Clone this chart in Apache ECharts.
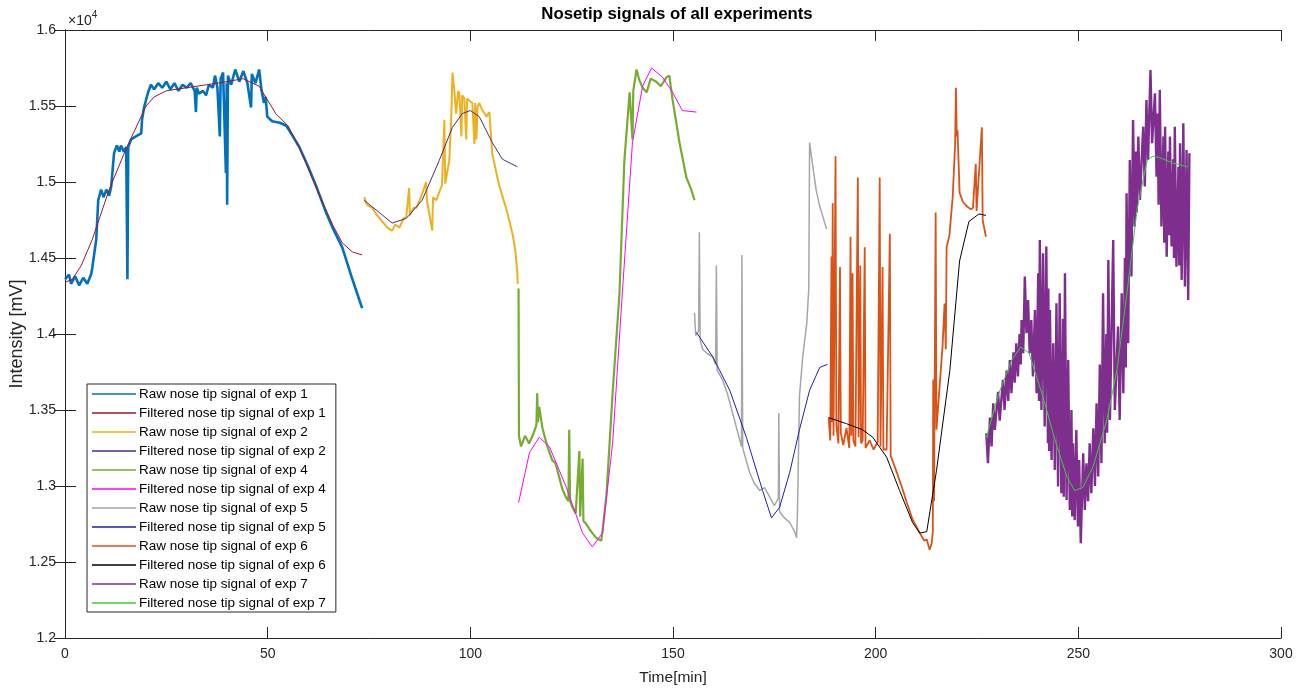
<!DOCTYPE html>
<html>
<head>
<meta charset="utf-8">
<script src="https://cdn.jsdelivr.net/npm/echarts@6/dist/echarts.min.js"></script>
<style>
  html, body { margin: 0; padding: 0; background: #fff; }
  #chart { width: 1311px; height: 693px; }
</style>
</head>
<body>
<div id="chart"></div>
<script>
// nosetip signals, values in mV, time in min
const raw1 = [[0,14360],[1,14390],[1.5,14330],[2.5,14380],[3.5,14320],[4.5,14370],[5.5,14330],[6.4,14390],[6.7,14430],[7.7,14620],[8.2,14880],[8.9,14950],[9.5,14900],[10.2,14950],[10.9,14910],[11.4,14970],[12.1,15190],[12.8,15240],[13.4,15200],[13.8,15240],[14.5,15200],[15.1,15230],[15.4,14360],[15.6,15230],[16.3,15280],[17.5,15300],[18.8,15320],[19,15410],[19.5,15490],[20.5,15590],[21.2,15640],[22,15610],[23,15650],[24,15620],[25,15660],[26,15610],[27,15650],[28,15600],[29,15640],[30,15620],[31,15650],[32,15600],[32.3,15460],[32.5,15620],[33.1,15580],[34,15600],[34.8,15570],[35.5,15640],[36.5,15620],[37,15700],[37.6,15620],[38.2,15300],[38.4,15680],[39,15720],[39.7,15060],[39.9,15650],[40,14850],[40.2,15700],[41,15640],[42,15740],[43,15660],[44,15730],[45,15650],[45.9,15490],[46.1,15710],[47,15650],[47.9,15740],[48.5,15600],[49.1,15520],[49.5,15560],[49.9,15430],[51.1,15400],[53,15390],[54.6,15370],[56,15310],[57.8,15230],[60,15100],[62,14970],[64.4,14800],[66,14700],[68.4,14570],[70.9,14360],[73.3,14170]];
const filt1 = [[0,14340],[1.8,14360],[4,14450],[6.7,14620],[10.9,14950],[15.1,15220],[20,15500],[22,15560],[25,15600],[30,15620],[35,15640],[40,15660],[43.9,15680],[47.9,15630],[52,15450],[55,15370],[57.8,15230],[62,14960],[66,14720],[68.4,14600],[70.9,14540],[73.3,14520]];

const raw2 = [[73.8,14900],[74.5,14850],[75.8,14830],[77,14780],[78.3,14740],[79.5,14700],[80.7,14680],[81.5,14720],[82.5,14700],[83.5,14760],[84.2,14770],[84.9,14960],[85.1,14780],[86,14830],[86.7,14830],[87.5,14880],[88.1,14920],[89.1,15000],[89.3,14880],[90.6,14680],[90.8,14900],[91.6,14880],[92.3,14930],[93,14980],[93.6,15410],[93.8,14990],[94.8,15140],[95.3,15430],[95.6,15720],[96,15620],[96.5,15450],[97,15600],[97.3,15580],[97.8,15300],[98,15570],[98.5,15550],[99,15280],[99.2,15550],[100,15530],[100.5,15520],[101,15250],[101.2,15520],[101.5,15280],[101.8,15500],[102.2,15520],[103,15470],[104,15430],[104.7,15460],[105.4,15190],[106.5,15050],[107.2,14970],[108.9,14820],[110.4,14660],[111.1,14550],[111.6,14400],[111.7,14330]];
const filt2 = [[73.8,14880],[77.5,14800],[80.7,14730],[84.2,14760],[88.1,14880],[92.3,15140],[95.6,15360],[98,15450],[100,15470],[102.2,15430],[105.4,15260],[107.9,15150],[111.6,15100]];

const raw4 = [[111.9,14300],[112,13330],[112.5,13260],[113.5,13330],[114.5,13280],[115.5,13340],[116.3,13400],[116.5,13610],[116.7,13420],[117,13520],[117.8,13380],[119,13260],[120.2,13170],[121,13150],[122,13050],[122.7,12980],[123.5,12930],[124.2,12900],[124.4,13370],[124.6,12900],[125.2,12860],[126,12820],[126.9,13230],[127.1,12800],[127.7,13180],[127.9,12770],[128.6,12750],[129.3,12720],[130.1,12690],[131,12660],[132.3,12640],[132.6,12700],[133.6,12950],[135.1,13610],[136.8,14270],[138,15140],[139.3,15590],[140,15280],[140.2,15600],[141,15740],[141.7,15670],[142.5,15620],[143.5,15590],[144.5,15680],[145.9,15660],[147,15630],[148.4,15690],[149.1,15700],[149.9,15540],[151.6,15260],[153.3,15030],[154.5,14950],[155.3,14880]];
const filt4 = [[111.9,12890],[114.6,13220],[117,13320],[119.5,13260],[123.7,12990],[127.7,12690],[130.1,12600],[132.6,12690],[135.1,13280],[137.5,14270],[140,15260],[142.5,15630],[144.7,15750],[147.4,15690],[149.9,15590],[152.3,15470],[155.8,15460]];

const raw5 = [[155.3,14140],[155.6,13990],[156.3,14020],[156.5,14670],[156.7,13960],[157.3,13900],[158.5,13870],[159.8,13850],[160.5,13800],[160.7,14450],[160.9,13760],[162.2,13700],[163.5,13600],[164.7,13480],[165.8,13370],[166.9,13260],[167,14520],[167.2,13250],[168.9,13090],[170,13020],[171.4,12970],[172.6,12990],[173.8,12930],[175,12870],[176,12920],[176.1,13480],[176.3,12830],[177.5,12790],[178.8,12760],[180,12700],[180.5,12660],[180.7,12820],[181.2,13590],[182,13850],[183,14070],[183.5,14300],[183.7,15260],[184.4,15120],[185.3,14950],[186.2,14840],[187.9,14690]];
const filt5 = [[155.8,14010],[159.8,13850],[164,13630],[168.1,13320],[172.1,12970],[174.3,12790],[176.3,12860],[178.8,13090],[181.2,13370],[183.7,13630],[186.2,13780],[188.1,13800]];

const raw6 = [[188.4,13450],[188.8,13300],[189.1,14510],[189.2,13420],[189.4,14860],[189.6,13330],[190.1,15170],[190.3,13400],[190.8,13280],[191.2,14440],[191.4,13350],[192,13270],[192.8,13380],[193.5,13250],[193.8,14640],[194,13330],[194.3,14400],[194.5,13300],[195,13260],[195.6,15030],[195.8,13320],[196.2,14450],[196.4,13280],[196.8,13300],[197.3,14570],[197.5,13250],[198.5,13300],[199.5,13240],[200.5,13290],[201,15030],[201.2,13260],[201.7,14440],[201.9,13240],[202.7,13240],[203.5,14660],[203.7,13200],[205.2,13090],[206.5,12990],[207.7,12890],[209.1,12780],[210.9,12690],[212,12640],[212.6,12650],[213.3,12580],[213.8,12620],[214.1,12700],[214.2,13700],[214.4,12900],[214.8,14800],[215,13370],[216.5,13920],[217,14200],[217.3,13900],[217.5,14570],[218.2,14650],[219,14900],[219.6,15250],[219.8,15620],[220,15300],[220.2,15340],[220.7,14930],[221.5,14870],[222.5,14840],[223.5,14820],[224,14830],[224.7,15120],[224.9,14810],[225.2,14820],[226.2,15360],[226.4,14750],[227.2,14640]];
const filt6 = [[188.4,13450],[192.8,13410],[196.8,13370],[199.3,13320],[202.7,13190],[205.9,12970],[209.1,12760],[210.9,12690],[212.6,12700],[215,13100],[218.3,13760],[220.7,14480],[223,14740],[225.5,14790],[227.2,14780]];

const raw7 = [[227.3,13347],[227.7,13150],[228.2,13450],[228.6,13260],[229,13544],[229.4,13369],[230.2,13620],[230.6,13430],[231.4,13698],[231.8,13500],[232.3,13760],[232.7,13560],[233.1,13829],[233.5,13610],[234,13880],[234.3,13680],[234.7,13939],[235.1,13720],[235.5,14000],[235.8,13800],[236,14092],[236.4,13873],[236.8,14378],[237.2,14005],[237.6,14224],[238,13873],[238.4,14092],[238.8,13720],[239.3,14158],[239.7,13610],[240.1,14400],[240.3,13560],[240.5,14619],[240.9,13500],[241.3,14531],[241.7,13391],[242.1,14575],[242.5,13281],[242.6,14300],[242.8,13230],[243,14158],[243.4,13171],[243.8,13939],[244.2,13106],[244.6,14202],[245,12996],[245.4,14268],[245.8,12952],[246.2,14100],[246.4,12930],[246.7,14399],[247.1,12908],[247.5,13829],[247.9,12843],[248.3,13500],[248.5,12800],[248.7,13281],[249.1,12777],[249.5,13369],[249.9,12733],[250.2,13171],[250.6,12623],[251.2,13215],[251.6,12843],[252,13150],[252.4,12900],[252.8,13281],[253.2,12952],[253.7,13380],[254.1,13000],[254.5,13544],[254.9,13062],[255.3,13800],[255.7,13150],[256.1,14268],[256.5,13281],[256.9,14000],[257.1,13350],[257.4,14487],[257.8,13435],[258.6,14619],[259,13500],[259.8,14049],[260.2,13435],[260.7,14268],[261.1,13610],[261.5,14500],[261.7,13780],[261.9,14926],[262.3,13939],[262.7,15145],[263.1,14378],[263.5,15408],[263.9,14707],[264.2,15200],[264.4,14800],[264.8,15299],[265.2,14882],[266,15364],[266.4,14970],[266.8,15540],[267.2,15145],[267.8,15737],[268.2,15255],[268.9,15584],[269.3,15035],[269.6,15450],[269.8,14850],[270.1,15606],[270.5,14707],[271,15300],[271.2,14600],[271.4,15364],[271.8,14509],[272.2,15200],[272.4,14650],[272.6,15299],[273,14575],[273.4,15150],[273.6,14500],[273.8,15364],[274.2,14443],[274.7,15100],[274.9,14450],[275.1,15255],[275.5,14356],[275.9,15386],[276.3,14312],[276.7,15211],[277.1,14224],[277.4,15189]];
const filt7 = [[227.3,13320],[230.4,13610],[233.6,13830],[235.8,13915],[237.8,13875],[241,13610],[244.5,13280],[247.2,13060],[249.1,12970],[251.1,12990],[253.6,13125],[257,13430],[259.5,13760],[262,14270],[264.5,14820],[267,15145],[268.4,15170],[270.1,15160],[273.3,15125],[277,15100]];

const seriesNames = [
  'Raw nose tip signal of exp 1', 'Filtered nose tip signal of exp 1',
  'Raw nose tip signal of exp 2', 'Filtered nose tip signal of exp 2',
  'Raw nose tip signal of exp 4', 'Filtered nose tip signal of exp 4',
  'Raw nose tip signal of exp 5', 'Filtered nose tip signal of exp 5',
  'Raw nose tip signal of exp 6', 'Filtered nose tip signal of exp 6',
  'Raw nose tip signal of exp 7', 'Filtered nose tip signal of exp 7'
];
const seriesData = [raw1, filt1, raw2, filt2, raw4, filt4, raw5, filt5, raw6, filt6, raw7, filt7];
const seriesColors = ['#0072BD', '#A2142F', '#EDB120', '#4B2C82', '#77AC30', '#FF00FF',
                      '#A6A6A6', '#1F1FB4', '#D95319', '#000000', '#7E2F8E', '#3CCB3C'];
const seriesWidths = [2.6, 1, 2.0, 1, 2.2, 1, 1.5, 1, 1.8, 1, 2.4, 1];

const xTicks = { min: 0, max: 300, interval: 50 };
const yTicks = { min: 12000, max: 16000, interval: 500 };

const AX = '#262626';
const FONT = '"Liberation Sans", Arial, sans-serif';

const chart = echarts.init(document.getElementById('chart'), null, { renderer: 'canvas' });

const series = seriesData.map((d, i) => ({
  name: seriesNames[i],
  type: 'line',
  data: d,
  symbol: 'none',
  smooth: false,
  silent: true,
  lineStyle: { color: seriesColors[i], width: seriesWidths[i], join: 'bevel' },
  itemStyle: { color: seriesColors[i] },
  z: 2 + i
}));

const boxAxis = {
  axisLine: { show: true, lineStyle: { color: AX, width: 1 } },
  axisTick: { show: true, inside: true, length: 11, lineStyle: { color: AX } },
  axisLabel: { show: false },
  splitLine: { show: false }
};

chart.setOption({
  animation: false,
  backgroundColor: '#fff',
  title: {
    text: 'Nosetip signals of all experiments',
    left: 672, top: 1, textAlign: 'center',
    textStyle: { fontFamily: FONT, fontSize: 16.8, fontWeight: 'bold', color: '#000' }
  },
  grid: { left: 65, right: 30, top: 30, bottom: 55, containLabel: false, outerBoundsMode: 'none' },
  legend: {
    data: seriesNames,
    orient: 'vertical',
    left: 87, top: 384,
    padding: [3, 10, 2, 5],
    icon: 'rect',
    itemWidth: 44, itemHeight: 1.4, itemGap: 5,
    backgroundColor: '#fff',
    borderColor: AX, borderWidth: 1, borderRadius: 0,
    textStyle: { fontFamily: FONT, fontSize: 13.5, color: '#000', lineHeight: 13, padding: [0, 0, 0, -2] }
  },
  graphic: [{
    type: 'text', left: 68, top: 10,
    style: {
      text: '{a|×10}{b|4}',
      rich: {
        a: { fontFamily: FONT, fontSize: 14, fill: AX, verticalAlign: 'bottom' },
        b: { fontFamily: FONT, fontSize: 10, fill: AX, verticalAlign: 'top', padding: [0, 0, 8, 0] }
      }
    }
  }],
  xAxis: [{
    type: 'value', ...xTicks,
    name: 'Time[min]', nameLocation: 'middle', nameGap: 32, nameMoveOverlap: false,
    nameTextStyle: { fontFamily: FONT, fontSize: 15.5, color: AX },
    axisLine: { show: true, onZero: false, lineStyle: { color: AX, width: 1 } },
    axisTick: { show: true, inside: true, length: 11, lineStyle: { color: AX } },
    axisLabel: { fontFamily: FONT, fontSize: 14, color: AX, margin: 9 },
    splitLine: { show: false }
  }, {
    type: 'value', position: 'top', ...xTicks, ...boxAxis
  }],
  yAxis: [{
    type: 'value', ...yTicks,
    name: 'Intensity [mV]', nameLocation: 'middle', nameGap: 39, nameRotate: 90, nameMoveOverlap: false,
    nameTextStyle: { fontFamily: FONT, fontSize: 18, color: AX },
    axisLine: { show: true, onZero: false, lineStyle: { color: AX, width: 1 } },
    axisTick: { show: true, inside: true, length: 11, lineStyle: { color: AX } },
    axisLabel: {
      fontFamily: FONT, fontSize: 14, color: AX, margin: 9,
      formatter: v => String(Math.round(v / 10) / 1000)
    },
    splitLine: { show: false }
  }, {
    type: 'value', position: 'right', ...yTicks, ...boxAxis
  }],
  series
});
</script>
</body>
</html>
